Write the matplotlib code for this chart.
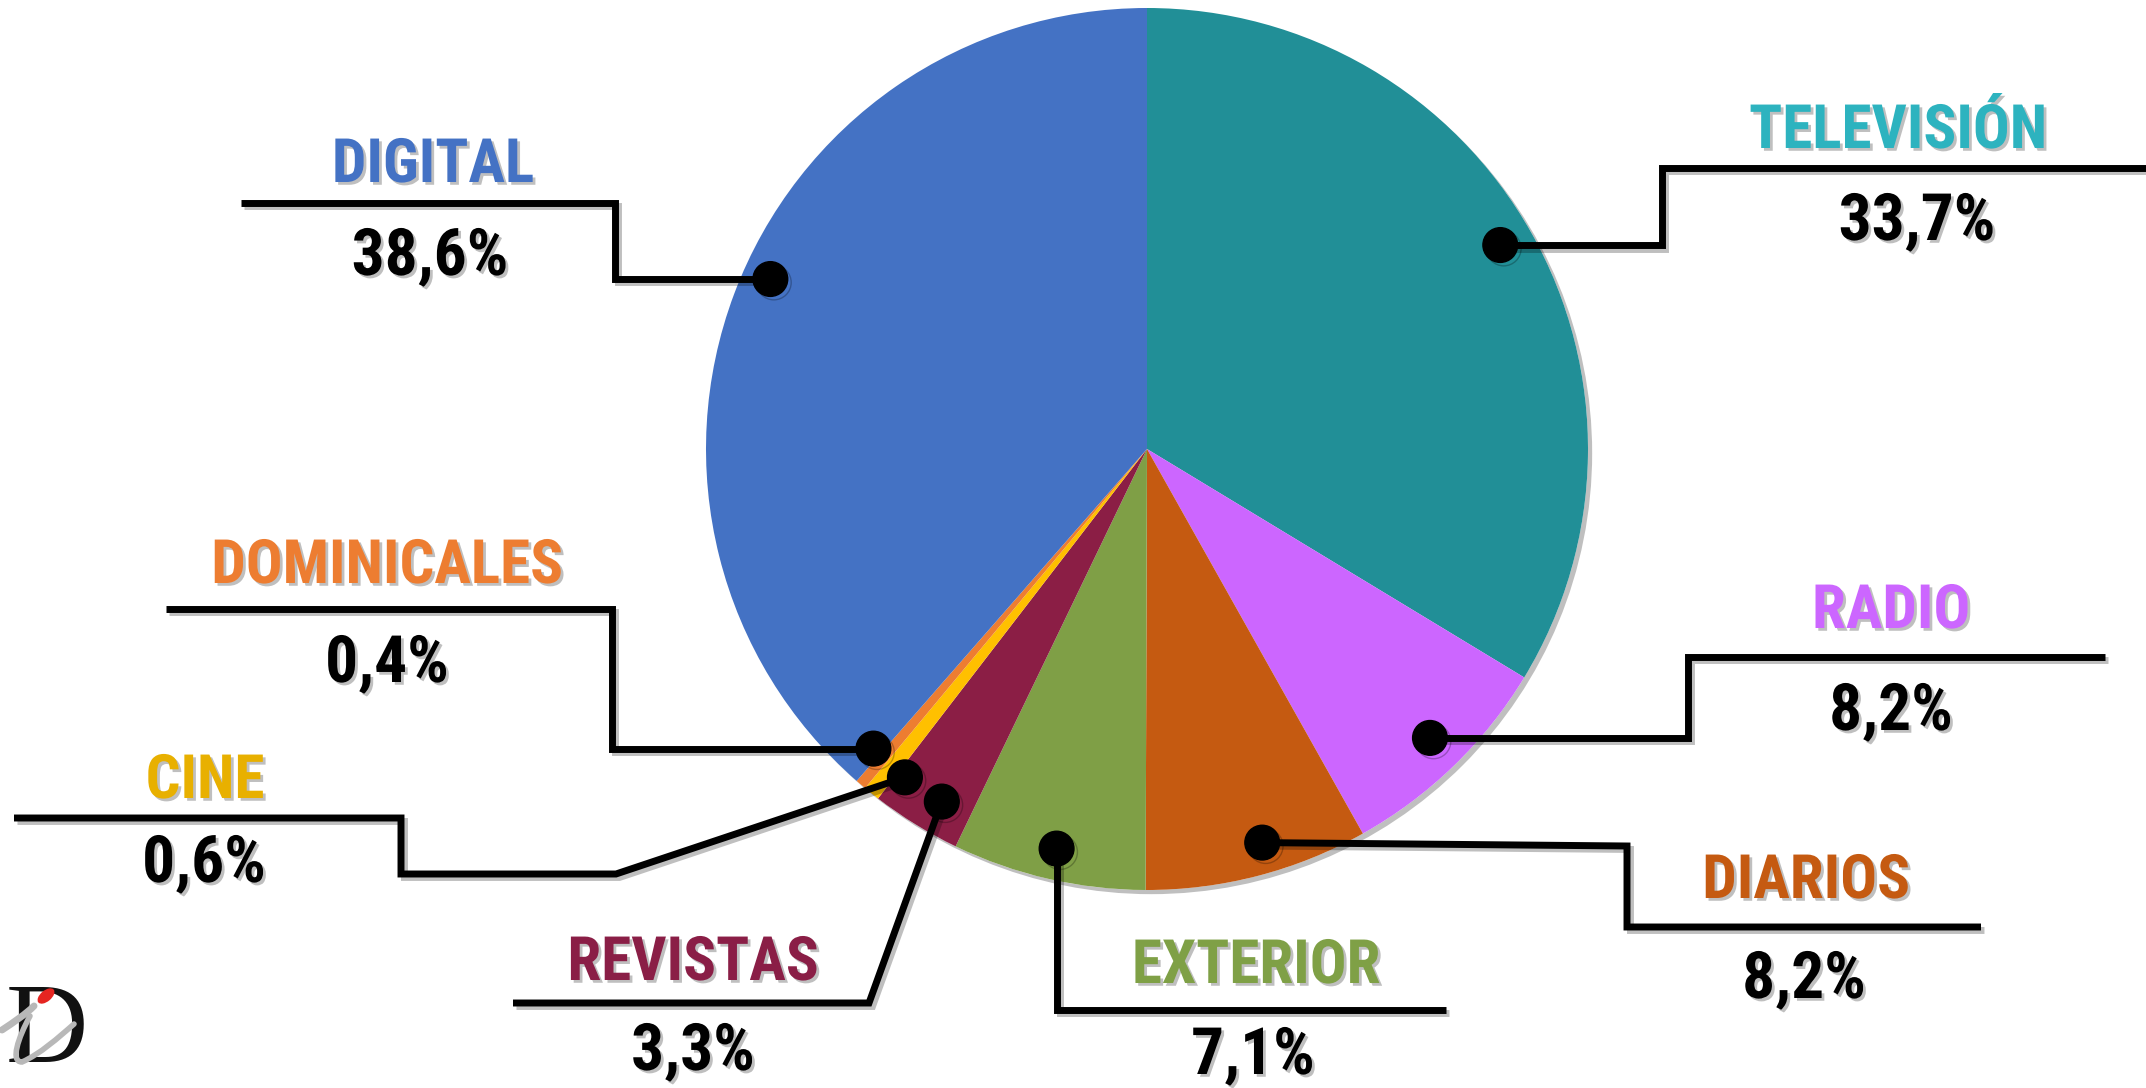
import numpy as np
import matplotlib
matplotlib.use("Agg")
import matplotlib.pyplot as plt
import matplotlib.patheffects as pe
from matplotlib.patches import Circle, Ellipse, PathPatch
from matplotlib.path import Path
from matplotlib import font_manager as fm

# ---------------- data ----------------
categories = ["TELEVISIÓN", "RADIO", "DIARIOS", "EXTERIOR", "REVISTAS", "CINE", "DOMINICALES", "DIGITAL"]
values = [33.7, 8.2, 8.2, 7.1, 3.3, 0.6, 0.4, 38.6]
value_labels = ["33,7%", "8,2%", "8,2%", "7,1%", "3,3%", "0,6%", "0,4%", "38,6%"]

# ---------------- style ----------------
wedge_colors = ["#218F97", "#CC66FF", "#C55A11", "#7F9F46", "#8B1E45", "#FFC000", "#ED7D31", "#4472C4"]
label_colors = ["#2DB3BF", "#CC66FF", "#C55A11", "#7FA046", "#8A1E46", "#E8B000", "#ED7D31", "#4472C4"]

W, H = 2146, 1088
CX, CY, R = 1147, 449, 441

dot_offsets = [0.6, 0.35, 1.75, 0.2, 1.45, 2.26, -1.94, -3.7]
dot_radius = [0.925, 0.917, 0.93, 0.929, 0.925, 0.925, 0.92, 0.937]

routes = [
    [(1662, None), (1662, 168), (2146, 168)],
    [(1688, None), (1688, 657), (2105, 657)],
    [(1627, 846), (1627, 927), (1981, 927)],
    [(None, 1010), (1446, 1010)],
    [(869, 1003), (513, 1003)],
    [(616, 874), (401, 874), (401, 818), (14, 818)],
    [(612, None), (612, 609), (166, 609)],
    [(615, None), (615, 203), (241, 203)],
]
name_pos = [(1898, 148), (1891, 628), (1806, 898), (1256, 983), (693, 980), (205, 798), (387, 583), (433, 182)]
value_pos = [(1917, 240), (1891, 730), (1804, 998), (1253, 1074), (693, 1070), (204, 882), (387, 682), (430, 275)]

# ---------------- font choice: prefer a condensed bold sans ----------------
entries = fm.fontManager.ttflist
names = {f.name for f in entries}
FONT, STRETCH, NAME_FS, VAL_FS = "DejaVu Sans", "normal", 36, 38
picked = False
for cand in ["Liberation Sans Narrow", "Roboto Condensed", "Noto Sans Condensed",
             "Open Sans Condensed", "Noto Sans SemiCondensed", "DejaVu Sans Condensed", "Arial Narrow"]:
    if cand in names:
        FONT, STRETCH, NAME_FS, VAL_FS = cand, "normal", 44, 47
        picked = True
        break
if not picked:
    for f in entries:
        st = str(f.stretch)
        if st in ("condensed", "semi-condensed", "extra-condensed") and f.name in (
                "Noto Sans", "Roboto", "Open Sans", "DejaVu Sans", "Inter", "Lato"):
            FONT, STRETCH, NAME_FS, VAL_FS = f.name, st, 44, 47
            picked = True
            break

fig = plt.figure(figsize=(W / 100, H / 100), dpi=100)
ax = fig.add_axes([0, 0, 1, 1])

shadow_disc = Circle((CX, CY), R, fc="white", ec="none", zorder=0,
                     path_effects=[pe.withSimplePatchShadow(offset=(3, -3), shadow_rgbFace="k", alpha=0.25)])
ax.add_patch(shadow_disc)

wedges, _ = ax.pie(values, colors=wedge_colors, startangle=-90, counterclock=True,
                   center=(CX, CY), radius=R, wedgeprops=dict(linewidth=0, edgecolor="none"))
for w in wedges:
    w.set_zorder(1)

ax.set_xlim(0, W)
ax.set_ylim(H, 0)
ax.set_aspect("equal")
ax.axis("off")

line_fx = [pe.SimpleLineShadow(offset=(2.5, -2.5), shadow_color="k", alpha=0.25), pe.Normal()]
text_fx = [pe.withSimplePatchShadow(offset=(2, -2), shadow_rgbFace="k", alpha=0.25)]

for i, w in enumerate(wedges):
    vis = -(w.theta1 + w.theta2) / 2 + dot_offsets[i]
    a = np.deg2rad(vis)
    dx = CX + dot_radius[i] * R * np.cos(a)
    dy = CY - dot_radius[i] * R * np.sin(a)
    pts = [(dx, dy)]
    for (px, py) in routes[i]:
        pts.append((dx if px is None else px, dy if py is None else py))
    xs, ys = zip(*pts)
    ax.plot(xs, ys, color="black", lw=5, solid_joinstyle="miter", solid_capstyle="butt",
            zorder=3, path_effects=line_fx)
    ax.plot([dx], [dy], "o", color="black", ms=25, zorder=4,
            path_effects=[pe.SimpleLineShadow(offset=(2.5, -2.5), alpha=0.25), pe.Normal()])
    ax.text(*name_pos[i], categories[i], ha="center", va="baseline", fontsize=NAME_FS,
            color=label_colors[i], fontweight="bold", family=FONT, fontstretch=STRETCH,
            zorder=5, path_effects=text_fx)
    ax.text(*value_pos[i], value_labels[i], ha="center", va="baseline", fontsize=VAL_FS,
            color="black", fontweight="bold", family=FONT, fontstretch=STRETCH,
            zorder=5, path_effects=text_fx)

# small logo in bottom-left corner
ax.text(6, 1086, "D", ha="left", va="bottom", fontsize=82, family="Liberation Serif",
        color="#111111", zorder=5)
stem = Path([(2, 1030), (14, 1022), (26, 1014), (34, 1006)],
            [Path.MOVETO, Path.CURVE4, Path.CURVE4, Path.CURVE4])
ax.add_patch(PathPatch(stem, fc="none", ec="#B8B8B8", lw=5, capstyle="round", zorder=6))
tail = Path([(30, 1016), (18, 1038), (10, 1062), (22, 1062),
             (40, 1054), (58, 1038), (74, 1024)],
            [Path.MOVETO, Path.CURVE4, Path.CURVE4, Path.CURVE4,
             Path.CURVE4, Path.CURVE4, Path.CURVE4])
ax.add_patch(PathPatch(tail, fc="none", ec="#B8B8B8", lw=4, capstyle="round", zorder=6))
ax.add_patch(Ellipse((46, 996), 20, 11, angle=-40, fc="#E52521", ec="none", zorder=7))

fig.savefig("out.png", dpi=100)
